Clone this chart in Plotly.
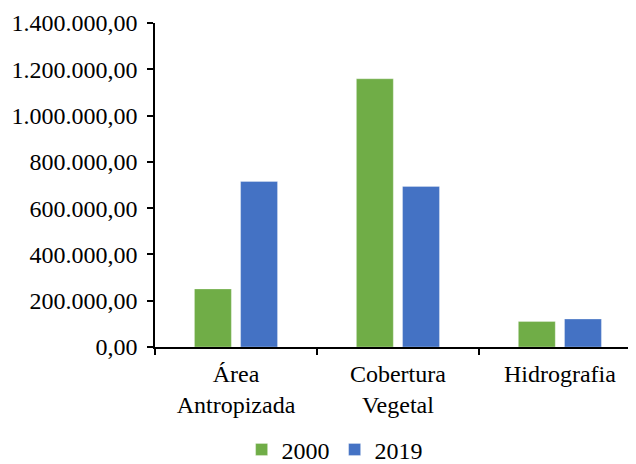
import plotly.graph_objects as go

categories = ["Área<br>Antropizada", "Cobertura<br>Vegetal", "Hidrografia"]
series_names = ["2000", "2019"]
values_2000 = [251000, 1159000, 110000]
values_2019 = [715000, 694000, 121000]
y_ticks = [0, 200000, 400000, 600000, 800000, 1000000, 1200000, 1400000]

colors = ["#70AD47", "#4472C4"]
font_family = "Liberation Serif"
fs = 24

fig = go.Figure()
for name, vals, col in zip(series_names, [values_2000, values_2019], colors):
    fig.add_trace(go.Bar(
        x=categories, y=vals, name=name,
        marker=dict(color=col, line=dict(color="rgba(255,255,255,0.6)", width=0.5)),
    ))

# page body has an 8px margin, so the figure is sized to fit the 636x464 window
fig.update_layout(
    width=628, height=456,
    margin=dict(l=147, r=0, t=15, b=117, autoexpand=False),
    paper_bgcolor="white", plot_bgcolor="white",
    barmode="group", bargap=0.43, bargroupgap=0.2,
    separators=",.",
    font=dict(family=font_family, size=fs, color="black"),
    showlegend=True,
    legend=dict(orientation="h", xref="container", yref="container",
                x=0.372, xanchor="left", y=0.031, yanchor="middle",
                font=dict(family=font_family, size=fs), itemwidth=30,
                traceorder="normal"),
    xaxis=dict(
        range=[-0.5, 2.47], showline=True, linecolor="black", linewidth=1.5,
        ticks="outside", tickson="boundaries", ticklen=6, tickwidth=1.5, tickcolor="black",
        showgrid=False, zeroline=False, tickfont=dict(family=font_family, size=fs),
        ticklabelstandoff=4, automargin=False,
    ),
    yaxis=dict(
        range=[0, 1400000], tickvals=y_ticks, tickformat=",.2f",
        showline=True, linecolor="black", linewidth=1.5,
        ticks="outside", ticklen=6, tickwidth=1.5, tickcolor="black",
        showgrid=False, zeroline=False, tickfont=dict(family=font_family, size=fs),
        ticklabelstandoff=5, automargin=False,
    ),
)

fig.write_html("out.html")
